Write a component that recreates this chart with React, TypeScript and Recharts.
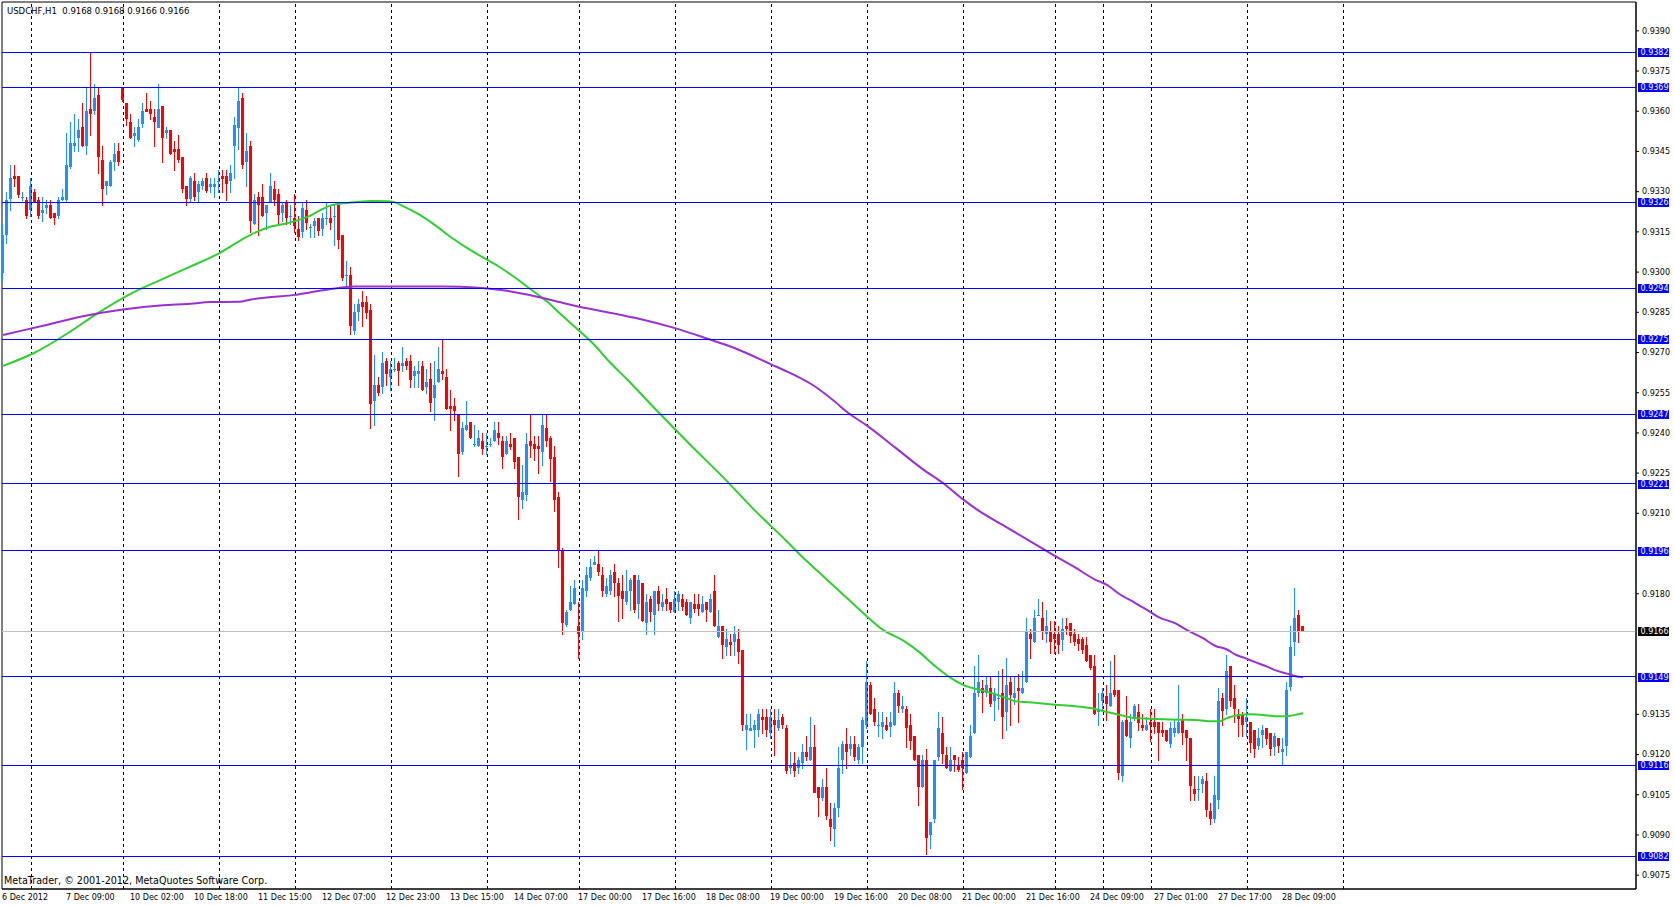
import React from 'react';
import { ComposedChart, Bar, Line, XAxis, YAxis, ReferenceLine, ReferenceArea } from 'recharts';

// Prices are written in pips (price x 10000)
const OPEN = [
  9300,9314,9327,9336,9336,9328,9327,9323,9330,9327,
  9322,9324,9325,9322,9321,9327,9327,9339,9347,9350,
  9354,9347,9361,9360,9366,9342,9332,9332,9341,9345,
  9369,9363,9356,9351,9349,9355,9361,9361,9358,9354,
  9362,9352,9353,9346,9346,9343,9332,9327,9334,9330,
  9332,9335,9332,9332,9334,9336,9336,9334,9347,9354,
  9365,9341,9347,9318,9328,9328,9322,9326,9331,9329,
  9322,9326,9321,9320,9316,9315,9323,9317,9317,9320,
  9316,9320,9320,9321,9325,9314,9299,9299,9278,9285,
  9289,9289,9286,9252,9258,9257,9267,9261,9264,9266,
  9265,9267,9267,9261,9262,9265,9257,9260,9253,9259,
  9263,9261,9250,9250,9247,9233,9241,9244,9236,9235,
  9237,9235,9236,9237,9240,9237,9232,9236,9238,9231,
  9215,9217,9237,9236,9235,9233,9242,9238,9231,9216,
  9196,9168,9174,9176,9168,9166,9181,9186,9191,9191,
  9187,9180,9181,9188,9184,9181,9177,9181,9187,9176,
  9184,9169,9178,9172,9181,9175,9178,9177,9173,9177,
  9178,9177,9171,9176,9176,9173,9177,9173,9181,9164,
  9168,9160,9162,9162,9163,9159,9129,9129,9129,9129,
  9134,9134,9128,9133,9130,9134,9130,9115,9117,9115,
  9117,9121,9118,9123,9108,9104,9108,9096,9092,9100,
  9118,9124,9122,9124,9118,9123,9131,9146,9137,9131,
  9130,9131,9130,9131,9143,9137,9137,9131,9127,9120,
  9108,9118,9090,9096,9119,9128,9120,9114,9120,9116,
  9118,9113,9119,9128,9143,9145,9143,9145,9140,9141,
  9143,9136,9147,9141,9145,9143,9147,9165,9162,9172,
  9171,9165,9166,9165,9165,9163,9168,9169,9165,9163,
  9163,9161,9157,9153,9136,9140,9142,9138,9144,9144,
  9112,9133,9126,9134,9136,9131,9129,9132,9132,9132,
  9129,9129,9124,9128,9128,9133,9129,9126,9107,9107,
  9109,9110,9099,9096,9103,9141,9137,9153,9141,9135,
  9135,9132,9132,9129,9123,9127,9130,9128,9123,9126,
  9121,9123,9145,9162,9172,9168,
];

const HIGH = [
  9318,9330,9340,9340,9336,9330,9328,9335,9331,9328,
  9328,9327,9327,9322,9328,9331,9352,9356,9359,9357,
  9363,9369,9382,9370,9369,9347,9334,9342,9348,9348,
  9369,9363,9359,9354,9357,9363,9367,9364,9361,9370,
  9362,9354,9353,9349,9351,9343,9332,9336,9337,9334,
  9335,9337,9335,9335,9338,9338,9338,9340,9358,9369,
  9367,9352,9349,9329,9330,9333,9325,9337,9334,9331,
  9326,9327,9325,9329,9321,9326,9327,9318,9320,9320,
  9322,9326,9325,9325,9325,9314,9304,9302,9288,9290,
  9293,9291,9288,9269,9261,9270,9268,9267,9268,9267,
  9272,9268,9269,9265,9267,9267,9264,9266,9267,9272,
  9275,9264,9256,9253,9247,9244,9252,9244,9243,9241,
  9240,9240,9238,9244,9244,9239,9239,9240,9238,9231,
  9228,9240,9247,9239,9239,9247,9247,9239,9235,9218,
  9197,9174,9183,9185,9177,9185,9190,9193,9194,9196,
  9190,9186,9189,9191,9186,9187,9189,9186,9187,9187,
  9184,9180,9179,9181,9183,9180,9182,9177,9181,9181,
  9180,9178,9177,9180,9180,9179,9177,9180,9187,9174,
  9168,9167,9165,9168,9167,9159,9135,9135,9133,9137,
  9137,9137,9137,9137,9137,9135,9131,9121,9121,9119,
  9124,9127,9134,9131,9108,9111,9115,9102,9102,9123,
  9125,9130,9127,9127,9124,9134,9155,9147,9141,9136,
  9136,9134,9136,9147,9144,9142,9138,9135,9127,9120,
  9120,9122,9095,9118,9136,9134,9123,9123,9120,9119,
  9121,9121,9131,9153,9157,9148,9149,9149,9145,9151,
  9152,9156,9149,9149,9150,9151,9171,9167,9174,9178,
  9177,9174,9170,9170,9168,9171,9171,9169,9167,9165,
  9164,9164,9157,9157,9143,9145,9146,9155,9157,9144,
  9133,9142,9135,9139,9139,9135,9134,9137,9137,9132,
  9132,9129,9132,9133,9146,9135,9129,9126,9112,9112,
  9112,9113,9102,9112,9145,9143,9157,9153,9146,9137,
  9136,9141,9132,9129,9130,9131,9130,9128,9128,9126,
  9126,9147,9168,9182,9174,9168,
];

const LOW = [
  9297,9311,9323,9332,9328,9327,9320,9321,9326,9320,
  9319,9322,9320,9318,9320,9327,9326,9339,9345,9345,
  9347,9344,9351,9359,9337,9325,9329,9332,9338,9340,
  9364,9355,9350,9347,9349,9354,9360,9357,9347,9354,
  9341,9350,9344,9338,9341,9330,9325,9326,9327,9326,
  9331,9330,9330,9328,9330,9330,9327,9330,9335,9346,
  9339,9332,9315,9318,9314,9321,9316,9326,9325,9318,
  9319,9318,9318,9315,9312,9313,9316,9313,9313,9314,
  9314,9318,9316,9310,9309,9297,9295,9277,9277,9282,
  9280,9283,9242,9243,9254,9255,9258,9256,9263,9258,
  9263,9264,9257,9257,9257,9256,9255,9248,9245,9259,
  9260,9249,9241,9245,9224,9232,9241,9238,9235,9235,
  9232,9232,9235,9237,9236,9227,9232,9234,9227,9208,
  9212,9215,9231,9230,9225,9228,9235,9222,9211,9190,
  9165,9168,9174,9176,9156,9163,9179,9185,9191,9187,
  9179,9179,9180,9179,9170,9171,9176,9174,9173,9171,
  9170,9165,9170,9165,9174,9174,9174,9173,9173,9174,
  9174,9172,9169,9173,9172,9173,9170,9173,9168,9164,
  9156,9157,9157,9157,9154,9129,9122,9129,9123,9127,
  9128,9127,9126,9120,9129,9130,9113,9113,9112,9113,
  9115,9118,9118,9106,9097,9103,9096,9088,9086,9097,
  9113,9115,9120,9118,9117,9117,9130,9135,9131,9127,
  9126,9129,9127,9131,9136,9136,9123,9122,9118,9101,
  9108,9083,9085,9095,9118,9117,9115,9114,9114,9114,
  9107,9113,9119,9128,9142,9136,9142,9138,9133,9137,
  9126,9129,9131,9139,9132,9143,9147,9156,9162,9172,
  9163,9162,9158,9158,9158,9159,9165,9162,9161,9159,
  9158,9155,9152,9135,9131,9137,9133,9138,9142,9111,
  9110,9127,9123,9133,9129,9129,9129,9125,9128,9118,
  9127,9125,9123,9127,9128,9124,9118,9103,9103,9103,
  9106,9097,9094,9095,9100,9131,9135,9138,9132,9127,
  9127,9127,9121,9119,9122,9123,9124,9120,9120,9121,
  9116,9120,9144,9157,9162,9166,
];

const CLOSE = [
  9314,9327,9335,9335,9329,9328,9321,9332,9326,9321,
  9323,9325,9320,9320,9327,9328,9340,9348,9348,9353,
  9347,9360,9359,9365,9343,9331,9334,9341,9344,9341,
  9364,9357,9350,9352,9354,9360,9360,9359,9356,9361,
  9350,9353,9344,9345,9342,9331,9327,9335,9328,9333,
  9334,9330,9333,9333,9334,9335,9333,9337,9355,9364,
  9340,9345,9319,9327,9325,9321,9325,9332,9327,9321,
  9325,9320,9321,9317,9313,9324,9318,9317,9319,9315,
  9320,9320,9318,9321,9312,9298,9299,9280,9285,9288,
  9287,9285,9251,9258,9255,9266,9262,9264,9264,9263,
  9266,9265,9260,9263,9263,9256,9259,9251,9258,9264,
  9262,9249,9249,9248,9232,9242,9243,9238,9236,9238,
  9234,9235,9236,9241,9238,9231,9237,9235,9229,9216,
  9218,9236,9235,9234,9234,9243,9237,9230,9215,9196,
  9169,9173,9177,9182,9165,9182,9187,9190,9192,9188,
  9181,9183,9187,9184,9179,9178,9181,9185,9174,9185,
  9170,9177,9173,9181,9176,9177,9176,9174,9178,9180,
  9175,9172,9177,9174,9174,9176,9174,9178,9168,9168,
  9161,9163,9161,9165,9158,9131,9131,9130,9131,9135,
  9133,9129,9134,9131,9133,9131,9114,9116,9114,9118,
  9121,9119,9123,9106,9104,9108,9097,9093,9100,9115,
  9124,9121,9124,9119,9123,9133,9147,9135,9132,9131,
  9132,9129,9132,9143,9138,9138,9130,9125,9118,9108,
  9118,9089,9095,9118,9130,9120,9115,9118,9118,9114,
  9115,9121,9127,9143,9147,9143,9146,9139,9143,9141,
  9134,9146,9142,9143,9144,9145,9166,9163,9171,9172,
  9166,9168,9162,9163,9161,9167,9167,9164,9162,9161,
  9159,9155,9152,9135,9137,9143,9139,9143,9142,9113,
  9132,9127,9132,9138,9132,9130,9131,9131,9130,9128,
  9128,9125,9130,9130,9132,9128,9126,9108,9105,9107,
  9111,9099,9096,9105,9140,9136,9151,9140,9137,9133,
  9131,9134,9124,9122,9126,9129,9126,9122,9127,9123,
  9122,9144,9160,9171,9166,9166,
];

// Moving averages, read at selected bars
const GREEN_BARS = [0, 8, 16, 24, 32, 40, 46, 54, 62, 67, 71, 73, 76, 79, 82, 86, 89, 92, 96, 98, 100, 104, 108, 112, 116, 120, 124, 128, 132, 136, 140, 144, 148, 151, 156, 164, 172, 180, 188, 196, 200, 204, 208, 212, 216, 220, 225, 229, 233, 237, 240, 244, 247, 251, 253, 258, 263, 268, 273, 276, 279, 283, 288, 295, 299, 302, 304, 306, 308, 312, 315, 318, 321, 323, 325];
const GREEN_MA = [9265, 9270, 9277, 9285, 9292, 9297.5, 9301.5, 9307, 9314, 9317, 9318.2, 9319, 9320.5, 9322.8, 9324.9, 9325.8, 9326.2, 9326.5, 9326.4, 9326, 9324.6, 9321.5, 9317.5, 9313, 9309, 9305.5, 9302, 9298, 9293.5, 9289, 9283.5, 9278.2, 9272.6, 9267.5, 9260, 9247.5, 9235.3, 9223.5, 9211, 9199.5, 9193.5, 9188, 9182.5, 9177, 9171.5, 9166.5, 9162.6, 9158.3, 9153, 9148.5, 9146, 9144.2, 9143, 9141, 9139.9, 9139.3, 9138.6, 9138, 9137, 9135.9, 9134.9, 9133.6, 9133.3, 9133, 9132.8, 9132.4, 9132.4, 9133.6, 9134.5, 9135, 9134.8, 9134.3, 9134.3, 9134.8, 9135.4];

const PURPLE_BARS = [0, 10, 20, 30, 40, 46, 52, 59, 62, 67, 73, 77, 82, 88, 100, 110, 119, 126, 133, 140, 146, 153, 159, 168, 176, 183, 192, 197, 203, 208, 211, 216, 223, 230, 235, 240, 244, 250, 256, 262, 268, 273, 276, 279, 283, 286, 289, 293, 296, 300, 303, 306, 308, 311, 313, 316, 318, 321, 323, 325];
const PURPLE_MA = [9276.5, 9280, 9283.5, 9286, 9287.6, 9288.1, 9288.8, 9288.9, 9289.8, 9290.7, 9291.5, 9292.5, 9293.7, 9294.6, 9294.6, 9294.6, 9294.2, 9293, 9291, 9288.5, 9286.5, 9284.5, 9282.6, 9279.1, 9275.2, 9271.6, 9265.6, 9262.2, 9257.3, 9251.6, 9247.8, 9242.7, 9234.6, 9226.4, 9221.3, 9215.2, 9210.9, 9205.6, 9200.3, 9195, 9189.8, 9185.3, 9183.3, 9180, 9176.6, 9174, 9171.2, 9169, 9166.4, 9163.4, 9160.6, 9159.2, 9157.4, 9155.7, 9154.5, 9152.8, 9151.5, 9150.2, 9149.3, 9148.8];

const LEVELS = [9382, 9369, 9326, 9294, 9275, 9247, 9221, 9196, 9149, 9116, 9082];
const BID = 9166;

// Price scale labels (those hidden under the level tags are left out)
const PRICE_TICKS = [9075, 9090, 9105, 9120, 9135, 9180, 9210, 9225, 9240, 9255, 9270, 9285, 9300, 9315, 9330, 9345, 9360, 9375, 9390];

const TIME_TICKS = [0, 16, 32, 48, 64, 80, 96, 112, 128, 144, 160, 176, 192, 208, 224, 240, 256, 272, 288, 304, 320];
const TIME_LABELS = ['6 Dec 2012', '7 Dec 09:00', '10 Dec 02:00', '10 Dec 18:00', '11 Dec 15:00', '12 Dec 07:00', '12 Dec 23:00', '13 Dec 15:00', '14 Dec 07:00', '17 Dec 00:00', '17 Dec 16:00', '18 Dec 08:00', '19 Dec 00:00', '19 Dec 16:00', '20 Dec 08:00', '21 Dec 00:00', '21 Dec 16:00', '24 Dec 09:00', '27 Dec 01:00', '27 Dec 17:00', '28 Dec 09:00'];

// Day separators (bar index of midnight)
const DAY_LINES = [7, 30, 54, 73, 97, 121, 144, 168, 192, 216, 240, 263, 275, 287, 311, 335];

const TITLE = 'USDCHF,H1  0.9168 0.9168 0.9166 0.9166';
const COPYRIGHT = 'MetaTrader, \u00A9 2001-2012, MetaQuotes Software Corp.';

const P = (v: number) => v / 10000;

const candles = OPEN.map((o, i) => ({
  i,
  o: P(o),
  h: P(HIGH[i]),
  l: P(LOW[i]),
  c: P(CLOSE[i]),
  range: [P(LOW[i]), P(HIGH[i])],
}));
const greenData = GREEN_BARS.map((b, k) => ({ i: b, v: P(GREEN_MA[k]) }));
const purpleData = PURPLE_BARS.map((b, k) => ({ i: b, v: P(PURPLE_MA[k]) }));

const X_DOMAIN: [number, number] = [-0.25, 408.25];
const Y_DOMAIN: [number, number] = [0.906984, 0.9400766];

const FONT = 'DejaVu Sans';
const BULL = '#1E90FF';
const BEAR = '#FF0000';
const LEVEL_COLOR = '#0000FF';

function Candle(props: any) {
  const { x, y, width, height, payload } = props;
  if (!payload || x == null || y == null) return null;
  const { o, h, l, c } = payload;
  const cx = Math.floor(x + width / 2);
  const k = h > l ? height / (h - l) : 0;
  const yO = y + (h - o) * k;
  const yC = y + (h - c) * k;
  const col = c >= o ? BULL : BEAR;
  const top = Math.round(Math.min(yO, yC));
  const bh = Math.max(1, Math.round(Math.abs(yC - yO)));
  return (
    <g>
      <line x1={cx + 0.5} x2={cx + 0.5} y1={Math.round(y)} y2={Math.round(y + height) + 1} stroke={col} strokeWidth={1} shapeRendering="crispEdges" />
      <rect x={cx - 1} y={top} width={3} height={bh} fill={col} shapeRendering="crispEdges" />
    </g>
  );
}

function PriceTick(props: any) {
  const { x, y, payload } = props;
  return (
    <text x={x} y={y} dy="0.35em" fontSize={8} fontFamily={FONT} fill="#000" textAnchor="start">
      {Number(payload.value).toFixed(4)}
    </text>
  );
}

function TimeTick(props: any) {
  const { x, y, payload } = props;
  const idx = TIME_TICKS.indexOf(payload.value);
  return (
    <text x={x - 1} y={y} dy="0.35em" fontSize={8} fontFamily={FONT} fill="#000" textAnchor="start">
      {idx >= 0 ? TIME_LABELS[idx] : ''}
    </text>
  );
}

function LevelTag(props: any) {
  const { viewBox, text, bg } = props;
  if (!viewBox) return null;
  const { x, y, width } = viewBox;
  const left = x + width + 2;
  const cy = Math.round(y);
  return (
    <g>
      <rect x={left} y={cy - 4} width={31} height={9} fill={bg} shapeRendering="crispEdges" />
      <text x={left + 2.5} y={cy} dy="0.36em" fontSize={8} fontFamily={FONT} fill="#fff" textAnchor="start">
        {text}
      </text>
    </g>
  );
}

export default function App() {
  return (
    <div style={{ position: 'absolute', left: 0, top: 0, width: 1674, height: 906, background: '#fff', overflow: 'hidden' }}>
      <ComposedChart
        width={1674}
        height={906}
        data={candles}
        margin={{ top: 2, right: 0, bottom: 0, left: 2 }}
      >
        <XAxis
          dataKey="i"
          type="number"
          domain={X_DOMAIN}
          allowDataOverflow
          ticks={TIME_TICKS}
          interval={0}
          tick={<TimeTick />}
          tickLine={false}
          tickSize={6}
          tickMargin={2}
          axisLine={{ stroke: '#000' }}
          height={17}
        />
        <YAxis
          orientation="right"
          type="number"
          domain={Y_DOMAIN}
          allowDataOverflow
          ticks={PRICE_TICKS.map(P)}
          interval={0}
          tick={<PriceTick />}
          tickLine={{ stroke: '#000' }}
          tickSize={3}
          tickMargin={3}
          axisLine={{ stroke: '#000' }}
          width={38}
        />
        <ReferenceArea
          x1={X_DOMAIN[0]}
          x2={X_DOMAIN[1]}
          y1={Y_DOMAIN[0]}
          y2={Y_DOMAIN[1]}
          fill="none"
          fillOpacity={0}
          stroke="#000"
          strokeWidth={1}
          ifOverflow="visible"
        />
        {DAY_LINES.map((b) => (
          <ReferenceLine key={'d' + b} x={b} stroke="#000" strokeWidth={1} strokeDasharray="3 3" shapeRendering="crispEdges" />
        ))}
        <Bar dataKey="range" barSize={3} shape={<Candle />} isAnimationActive={false} />
        <Line data={greenData} dataKey="v" type="monotone" stroke="#32CD32" strokeWidth={2} dot={false} activeDot={false} isAnimationActive={false} />
        <Line data={purpleData} dataKey="v" type="monotone" stroke="#9932CC" strokeWidth={2} dot={false} activeDot={false} isAnimationActive={false} />
        {LEVELS.map((lv) => (
          <ReferenceLine
            key={'l' + lv}
            y={P(lv)}
            stroke={LEVEL_COLOR}
            strokeWidth={1}
            shapeRendering="crispEdges"
            label={<LevelTag text={P(lv).toFixed(4)} bg={LEVEL_COLOR} />}
          />
        ))}
        <ReferenceLine
          y={P(BID)}
          stroke="#C0C0C0"
          strokeWidth={1}
          shapeRendering="crispEdges"
          label={<LevelTag text={P(BID).toFixed(4)} bg="#000000" />}
        />
      </ComposedChart>
      <svg width={1674} height={906} style={{ position: 'absolute', left: 0, top: 0, pointerEvents: 'none' }}>
        <text x={7} y={14} fontSize={8.5} fontFamily={FONT} fill="#000" style={{ whiteSpace: 'pre' }}>
          {TITLE}
        </text>
        <text x={4} y={884} fontSize={9.6} fontFamily={FONT} fill="#000">
          {COPYRIGHT}
        </text>
      </svg>
    </div>
  );
}
